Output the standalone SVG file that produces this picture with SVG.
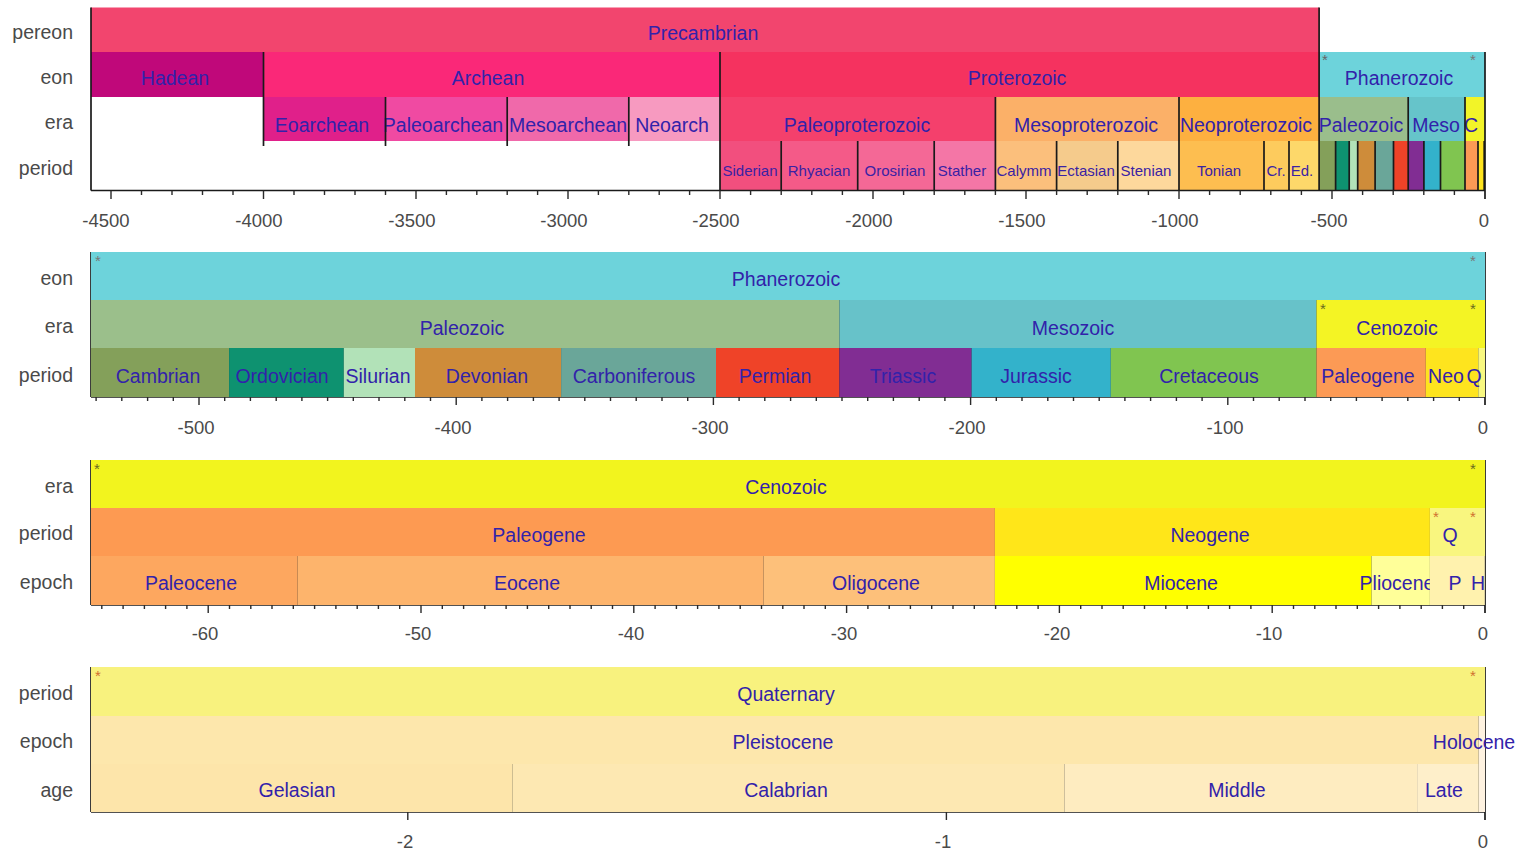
<svg xmlns="http://www.w3.org/2000/svg" width="1517" height="851" viewBox="0 0 1517 851">
<style>
text{font-family:'Liberation Sans',Arial,sans-serif}
.l{font-size:19.5px;text-anchor:middle;fill:#3222aa}
.s{font-size:15px;text-anchor:middle;fill:#3a22a4}
.a{font-size:19.5px;text-anchor:end;fill:#4a4a4a}
.t{font-size:18.5px;text-anchor:middle;fill:#4a4a4a}
.st{font-size:15px;text-anchor:middle}
.b{stroke:#1a1a1a;stroke-width:1.7;fill:none}
.k{stroke:#2a2a2a;stroke-width:1.4;fill:none}
</style>
<rect width="1517" height="851" fill="#fff"/>

<!-- ================= PANEL 1 ================= -->
<g id="panel1">
<g id="p1-axislabels">
<text class="a" x="73" y="39">pereon</text>
<text class="a" x="73" y="84">eon</text>
<text class="a" x="73" y="129">era</text>
<text class="a" x="73" y="175">period</text>
</g>
<g id="p1-precambrian"><rect x="91" y="7.5" width="1228.1" height="44.5" fill="#f2456e"/><text class="l" x="703" y="40">Precambrian</text></g>
<g id="p1-hadean"><rect x="91" y="52" width="172.5" height="45" fill="#c0087a"/><text class="l" x="175" y="85" fill="#2a22d0">Hadean</text></g>
<g id="p1-archean"><rect x="263.5" y="52" width="456.5" height="45" fill="#fa2878"/><text class="l" x="488" y="85">Archean</text></g>
<g id="p1-proterozoic"><rect x="720" y="52" width="599.1" height="45" fill="#f5325f"/><text class="l" x="1017" y="85">Proterozoic</text></g>
<g id="p1-phanerozoic"><rect x="1319.1" y="52" width="165.9" height="45" fill="#6dd3db"/><text class="l" x="1399" y="85" fill="#2040c0">Phanerozoic</text></g>

<g id="p1-eoarchean"><rect x="263.5" y="97" width="122" height="44" fill="#e0208a"/><text class="l" x="322" y="132">Eoarchean</text></g>
<g id="p1-paleoarchean"><rect x="385.5" y="97" width="121.7" height="44" fill="#f04aa2"/><text class="l" x="443" y="132">Paleoarchean</text></g>
<g id="p1-mesoarchean"><rect x="507.2" y="97" width="121.6" height="44" fill="#f069aa"/><text class="l" x="568" y="132">Mesoarchean</text></g>
<g id="p1-neoarchean"><rect x="628.8" y="97" width="91.2" height="44" fill="#f79ac0"/><text class="l" x="672" y="132">Neoarch</text></g>
<g id="p1-paleoproterozoic"><rect x="720" y="97" width="275.4" height="44" fill="#f4406c"/><text class="l" x="857" y="132">Paleoproterozoic</text></g>
<g id="p1-mesoproterozoic"><rect x="995.4" y="97" width="183.6" height="44" fill="#fbb068"/><text class="l" x="1086" y="132">Mesoproterozoic</text></g>
<g id="p1-neoproterozoic"><rect x="1179" y="97" width="140.1" height="44" fill="#fdb040"/><text class="l" x="1246" y="132">Neoproterozoic</text></g>
<g id="p1-paleozoic"><rect x="1319.1" y="97" width="89.1" height="44" fill="#9abe8c"/><text class="l" x="1361" y="132" fill="#2a3cc0">Paleozoic</text></g>
<g id="p1-mesozoic"><rect x="1408.2" y="97" width="56.8" height="44" fill="#66c4ca"/><text class="l" x="1436" y="132" fill="#2a3cc0">Meso</text></g>
<g id="p1-cenozoic"><rect x="1465" y="97" width="20" height="44" fill="#f2f428"/><text class="l" x="1471" y="132">C</text></g>

<g id="p1-siderian"><rect x="720" y="141" width="61.2" height="49.5" fill="#f24f7e"/><text class="s" x="750" y="176">Siderian</text></g>
<g id="p1-rhyacian"><rect x="781.2" y="141" width="76.5" height="49.5" fill="#f45a88"/><text class="s" x="819" y="176">Rhyacian</text></g>
<g id="p1-orosirian"><rect x="857.7" y="141" width="76.5" height="49.5" fill="#f46896"/><text class="s" x="895" y="176">Orosirian</text></g>
<g id="p1-statherian"><rect x="934.2" y="141" width="61.2" height="49.5" fill="#f476a6"/><text class="s" x="962" y="176">Stather</text></g>
<g id="p1-calymmian"><rect x="995.4" y="141" width="61.2" height="49.5" fill="#fbbf7c"/><text class="s" x="1024" y="176">Calymm</text></g>
<g id="p1-ectasian"><rect x="1056.6" y="141" width="61.2" height="49.5" fill="#f5cb8c"/><text class="s" x="1086" y="176">Ectasian</text></g>
<g id="p1-stenian"><rect x="1117.8" y="141" width="61.2" height="49.5" fill="#fdd89c"/><text class="s" x="1146" y="176">Stenian</text></g>
<g id="p1-tonian"><rect x="1179" y="141" width="85" height="49.5" fill="#fdbe50"/><text class="s" x="1219" y="176">Tonian</text></g>
<g id="p1-cryogenian"><rect x="1264" y="141" width="25" height="49.5" fill="#fdcb5d"/><text class="s" x="1276" y="176">Cr.</text></g>
<g id="p1-ediacaran"><rect x="1289" y="141" width="30.1" height="49.5" fill="#fdd86a"/><text class="s" x="1302" y="176">Ed.</text></g>
<g id="p1-phanero-periods">
<rect x="1319.1" y="141" width="16.5" height="49.5" fill="#84a05a"/>
<rect x="1335.6" y="141" width="13.6" height="49.5" fill="#0e9270"/>
<rect x="1349.2" y="141" width="8.5" height="49.5" fill="#b2e2b8"/>
<rect x="1357.7" y="141" width="17.4" height="49.5" fill="#ce8c3a"/>
<rect x="1375.1" y="141" width="18.4" height="49.5" fill="#6aa699"/>
<rect x="1393.5" y="141" width="14.7" height="49.5" fill="#ef4328"/>
<rect x="1408.2" y="141" width="15.7" height="49.5" fill="#812d93"/>
<rect x="1423.9" y="141" width="16.6" height="49.5" fill="#33b2cb"/>
<rect x="1440.5" y="141" width="24.5" height="49.5" fill="#80c550"/>
<rect x="1465" y="141" width="13" height="49.5" fill="#fc9a55"/>
<rect x="1478" y="141" width="6.2" height="49.5" fill="#fee41e"/>
<rect x="1484.2" y="141" width="0.8" height="49.5" fill="#f8f880"/>
</g>
<g id="p1-stars">
<text class="st" x="1325" y="65" fill="#666">*</text>
<text class="st" x="1473" y="65" fill="#777">*</text>
</g>
</g>

<g id="connectors">
<!-- panel 1 boundaries and axes -->
<path class="b" d="M91 7.5V190.5M263.5 52V146M385.5 97V146M507.2 97V146M628.8 97V146M720 52V190.5M781.2 141V190.5M857.7 141V190.5M934.2 141V190.5M995.4 97V190.5M1056.6 141V190.5M1117.8 141V190.5M1179 97V190.5M1264 141V190.5M1289 141V190.5M1319.1 7.5V190.5M1335.6 141V190.5M1349.2 141V190.5M1357.7 141V190.5M1375.1 141V190.5M1393.5 141V190.5M1408.2 97V190.5M1423.9 141V190.5M1440.5 141V190.5M1465 97V190.5M1478 141V190.5M1484.2 141V190.5M1485 52V199M91 190.5H1485"/>
<path class="k" d="M111 190.5v8.5M263.5 190.5v8.5M416 190.5v8.5M568 190.5v8.5M720 190.5v8.5M873 190.5v8.5M1026 190.5v8.5M1179 190.5v8.5M1332 190.5v8.5M141.5 190.5v4.5M172 190.5v4.5M202.5 190.5v4.5M233 190.5v4.5M294 190.5v4.5M324.5 190.5v4.5M355 190.5v4.5M385.5 190.5v4.5M446.4 190.5v4.5M476.8 190.5v4.5M507.2 190.5v4.5M537.6 190.5v4.5M598.4 190.5v4.5M628.8 190.5v4.5M659.2 190.5v4.5M689.6 190.5v4.5M750.6 190.5v4.5M781.2 190.5v4.5M811.8 190.5v4.5M842.4 190.5v4.5M903.6 190.5v4.5M934.2 190.5v4.5M964.8 190.5v4.5M995.4 190.5v4.5M1056.6 190.5v4.5M1087.2 190.5v4.5M1117.8 190.5v4.5M1148.4 190.5v4.5M1209.6 190.5v4.5M1240.2 190.5v4.5M1270.8 190.5v4.5M1301.4 190.5v4.5M1362.6 190.5v4.5M1393.2 190.5v4.5M1423.8 190.5v4.5M1454.4 190.5v4.5"/>
<!-- panel 2 -->
<path class="b" d="M91 252V397M229.1 348V397M343.8 348V397M415 348V397M561.1 348V397M716 348V397M839.4 300V397M971.6 348V397M1110.8 348V397M1316.5 300V397M1425.8 348V397M1478.3 348V397M1485 252V405M91 397H1485"/>
<path class="k" d="M199 397v8M456.2 397v8M713.4 397v8M970.6 397v8M1227.8 397v8M96.1 397v4M121.8 397v4M147.6 397v4M173.3 397v4M224.7 397v4M250.4 397v4M276.2 397v4M301.9 397v4M327.6 397v4M353.3 397v4M379 397v4M404.8 397v4M430.5 397v4M481.9 397v4M507.6 397v4M533.4 397v4M559.1 397v4M584.8 397v4M610.5 397v4M636.2 397v4M662 397v4M687.7 397v4M739.1 397v4M764.8 397v4M790.6 397v4M816.3 397v4M842 397v4M867.7 397v4M893.4 397v4M919.2 397v4M944.9 397v4M996.3 397v4M1022 397v4M1047.8 397v4M1073.5 397v4M1099.2 397v4M1124.9 397v4M1150.6 397v4M1176.4 397v4M1202.1 397v4M1253.5 397v4M1279.2 397v4M1305 397v4M1330.7 397v4M1356.4 397v4M1382.1 397v4M1407.8 397v4M1433.6 397v4M1459.3 397v4"/>
<!-- panel 3 -->
<path class="b" d="M91 460V605M297.6 556V605M763.6 556V605M994.9 508V605M1371.5 556V605M1429.9 508V605M1485 460V613M91 605H1485"/>
<path class="b" style="stroke-width:2.4" d="M1484 556V605"/>
<path class="k" d="M208.2 605v8M421 605v8M633.8 605v8M846.6 605v8M1059.4 605v8M1272.2 605v8M101.8 605v4M123.1 605v4M144.4 605v4M165.6 605v4M186.9 605v4M229.5 605v4M250.8 605v4M272 605v4M293.3 605v4M314.6 605v4M335.9 605v4M357.2 605v4M378.4 605v4M399.7 605v4M442.3 605v4M463.6 605v4M484.8 605v4M506.1 605v4M527.4 605v4M548.7 605v4M570 605v4M591.2 605v4M612.5 605v4M655.1 605v4M676.4 605v4M697.6 605v4M718.9 605v4M740.2 605v4M761.5 605v4M782.8 605v4M804 605v4M825.3 605v4M867.9 605v4M889.2 605v4M910.4 605v4M931.7 605v4M953 605v4M974.3 605v4M995.6 605v4M1016.8 605v4M1038.1 605v4M1080.7 605v4M1102 605v4M1123.2 605v4M1144.5 605v4M1165.8 605v4M1187.1 605v4M1208.4 605v4M1229.6 605v4M1250.9 605v4M1293.5 605v4M1314.8 605v4M1336 605v4M1357.3 605v4M1378.6 605v4M1399.9 605v4M1421.2 605v4M1442.4 605v4M1463.7 605v4"/>
<!-- panel 4 -->
<path class="b" d="M91 667V812M512.3 764V812M1064.3 764V812M1417.1 764V812M1478.7 716V812M1485 667V820M91 812H1485"/>
<path class="k" d="M407.8 812v8M946.4 812v8"/>
</g>

<g id="p1-ticklabels">
<text class="t" x="106" y="227">-4500</text>
<text class="t" x="259" y="227">-4000</text>
<text class="t" x="412" y="227">-3500</text>
<text class="t" x="564" y="227">-3000</text>
<text class="t" x="716" y="227">-2500</text>
<text class="t" x="869" y="227">-2000</text>
<text class="t" x="1022" y="227">-1500</text>
<text class="t" x="1175" y="227">-1000</text>
<text class="t" x="1329" y="227">-500</text>
<text class="t" x="1484" y="227">0</text>
</g>

<!-- ================= PANEL 2 ================= -->
<g id="panel2">
<g id="p2-axislabels">
<text class="a" x="73" y="285">eon</text>
<text class="a" x="73" y="333">era</text>
<text class="a" x="73" y="382">period</text>
</g>
<g id="p2-phanerozoic"><rect x="91" y="252" width="1394" height="48" fill="#6dd3db"/><text class="l" x="786" y="286" fill="#2f45c0">Phanerozoic</text></g>
<g id="p2-paleozoic"><rect x="91" y="300" width="748.4" height="48" fill="#9bbf8b"/><text class="l" x="462" y="335" fill="#2a40b0">Paleozoic</text></g>
<g id="p2-mesozoic"><rect x="839.4" y="300" width="477.1" height="48" fill="#67c2c9"/><text class="l" x="1073" y="335" fill="#2a3ec0">Mesozoic</text></g>
<g id="p2-cenozoic"><rect x="1316.5" y="300" width="168.5" height="48" fill="#f4f424"/><text class="l" x="1397" y="335" fill="#3a3a20">Cenozoic</text></g>
<g id="p2-cambrian"><rect x="91" y="348" width="138.1" height="49" fill="#84a05a"/><text class="l" x="158" y="383" fill="#1f3a70">Cambrian</text></g>
<g id="p2-ordovician"><rect x="229.1" y="348" width="114.7" height="49" fill="#0e9270"/><text class="l" x="282" y="383" fill="#1f55c8">Ordovician</text></g>
<g id="p2-silurian"><rect x="343.8" y="348" width="71.2" height="49" fill="#b2e2b8"/><text class="l" x="378" y="383" fill="#1f40a0">Silurian</text></g>
<g id="p2-devonian"><rect x="415" y="348" width="146.1" height="49" fill="#ce8c3a"/><text class="l" x="487" y="383" fill="#4a2a90">Devonian</text></g>
<g id="p2-carboniferous"><rect x="561.1" y="348" width="154.9" height="49" fill="#6aa699"/><text class="l" x="634" y="383" fill="#1f3fa0">Carboniferous</text></g>
<g id="p2-permian"><rect x="716" y="348" width="123.4" height="49" fill="#ef4328"/><text class="l" x="775" y="383" fill="#6a1a90">Permian</text></g>
<g id="p2-triassic"><rect x="839.4" y="348" width="132.2" height="49" fill="#812d93"/><text class="l" x="903" y="383" fill="#5a6ad0">Triassic</text></g>
<g id="p2-jurassic"><rect x="971.6" y="348" width="139.2" height="49" fill="#33b2cb"/><text class="l" x="1036" y="383" fill="#1f4fb0">Jurassic</text></g>
<g id="p2-cretaceous"><rect x="1110.8" y="348" width="205.7" height="49" fill="#80c550"/><text class="l" x="1209" y="383" fill="#1f3f60">Cretaceous</text></g>
<g id="p2-paleogene"><rect x="1316.5" y="348" width="109.3" height="49" fill="#fc9a55"/><text class="l" x="1368" y="383" fill="#6a1aa8">Paleogene</text></g>
<g id="p2-neogene"><rect x="1425.8" y="348" width="52.5" height="49" fill="#fee41e"/><text class="l" x="1446" y="383" fill="#2a2a60">Neo</text></g>
<g id="p2-quaternary"><rect x="1478.3" y="348" width="6.7" height="49" fill="#f8f880"/><text class="l" x="1474" y="383" fill="#2a2a60">Q</text></g>
<g id="p2-stars">
<text class="st" x="98" y="266" fill="#777">*</text>
<text class="st" x="1473" y="266" fill="#777">*</text>
<text class="st" x="1323" y="314" fill="#6a6a20">*</text>
<text class="st" x="1473" y="314" fill="#6a6a20">*</text>
</g>
<g id="p2-ticklabels">
<text class="t" x="196" y="434">-500</text>
<text class="t" x="453" y="434">-400</text>
<text class="t" x="710" y="434">-300</text>
<text class="t" x="967" y="434">-200</text>
<text class="t" x="1225" y="434">-100</text>
<text class="t" x="1483" y="434">0</text>
</g>
</g>

<!-- ================= PANEL 3 ================= -->
<g id="panel3">
<g id="p3-axislabels">
<text class="a" x="73" y="493">era</text>
<text class="a" x="73" y="540">period</text>
<text class="a" x="73" y="589">epoch</text>
</g>
<g id="p3-cenozoic"><rect x="91" y="460" width="1394" height="48" fill="#f2f41e"/><text class="l" x="786" y="494" fill="#3a3a20">Cenozoic</text></g>
<g id="p3-paleogene"><rect x="91" y="508" width="903.9" height="48" fill="#fd9a52"/><text class="l" x="539" y="542" fill="#6a1aa8">Paleogene</text></g>
<g id="p3-neogene"><rect x="994.9" y="508" width="435" height="48" fill="#ffe619"/><text class="l" x="1210" y="542" fill="#2a2a50">Neogene</text></g>
<g id="p3-quaternary"><rect x="1429.9" y="508" width="55.1" height="48" fill="#f9f67f"/><text class="l" x="1450" y="542" fill="#2a2a50">Q</text></g>
<g id="p3-paleocene"><rect x="91" y="556" width="206.6" height="49" fill="#fda75f"/><text class="l" x="191" y="590" fill="#5a1aa8">Paleocene</text></g>
<g id="p3-eocene"><rect x="297.6" y="556" width="466" height="49" fill="#fdb46c"/><text class="l" x="527" y="590" fill="#5a1aa8">Eocene</text></g>
<g id="p3-oligocene"><rect x="763.6" y="556" width="231.3" height="49" fill="#fdc07a"/><text class="l" x="876" y="590" fill="#5a1aa8">Oligocene</text></g>
<g id="p3-miocene"><rect x="994.9" y="556" width="376.6" height="49" fill="#ffff00"/><text class="l" x="1181" y="590" fill="#2a2a50">Miocene</text></g>
<g id="p3-pliocene"><rect x="1371.5" y="556" width="58.4" height="49" fill="#ffff99"/><text class="l" x="1397" y="590" fill="#2a2a60">Pliocene</text></g>
<g id="p3-pleistocene"><rect x="1429.9" y="556" width="54.9" height="49" fill="#fff2ae"/><text class="l" x="1455" y="590" fill="#2a2a80">P</text></g>
<g id="p3-holocene"><rect x="1484.8" y="556" width="0.2" height="49" fill="#fef2e0"/><text class="l" x="1478" y="590" fill="#2a2a80">H</text></g>
<g id="p3-stars">
<text class="st" x="97" y="474" fill="#6a6a20">*</text>
<text class="st" x="1473" y="474" fill="#6a6a20">*</text>
<text class="st" x="1436" y="522" fill="#d07030">*</text>
<text class="st" x="1473" y="522" fill="#d07030">*</text>
</g>
<g id="p3-ticklabels">
<text class="t" x="205" y="640">-60</text>
<text class="t" x="418" y="640">-50</text>
<text class="t" x="631" y="640">-40</text>
<text class="t" x="844" y="640">-30</text>
<text class="t" x="1057" y="640">-20</text>
<text class="t" x="1269" y="640">-10</text>
<text class="t" x="1483" y="640">0</text>
</g>
</g>

<!-- ================= PANEL 4 ================= -->
<g id="panel4">
<g id="p4-axislabels">
<text class="a" x="73" y="700">period</text>
<text class="a" x="73" y="748">epoch</text>
<text class="a" x="73" y="797">age</text>
</g>
<g id="p4-quaternary"><rect x="91" y="667" width="1394" height="49" fill="#f8f27e"/><text class="l" x="786" y="701" fill="#2a2a9a">Quaternary</text></g>
<g id="p4-pleistocene"><rect x="91" y="716" width="1387.7" height="48" fill="#fde7ac"/><text class="l" x="783" y="749" fill="#2a2a9a">Pleistocene</text></g>
<g id="p4-holocene"><rect x="1478.7" y="716" width="6.3" height="96" fill="#fef2e0"/><text class="l" x="1474" y="749" fill="#2a2a9a">Holocene</text></g>
<g id="p4-gelasian"><rect x="91" y="764" width="421.3" height="48" fill="#fde5aa"/><text class="l" x="297" y="797" fill="#2a2a9a">Gelasian</text></g>
<g id="p4-calabrian"><rect x="512.3" y="764" width="552" height="48" fill="#fde8b2"/><text class="l" x="786" y="797" fill="#2a2a9a">Calabrian</text></g>
<g id="p4-middle"><rect x="1064.3" y="764" width="352.8" height="48" fill="#feecc0"/><text class="l" x="1237" y="797" fill="#2a2a9a">Middle</text></g>
<g id="p4-late"><rect x="1417.1" y="764" width="61.6" height="48" fill="#feefca"/><text class="l" x="1444" y="797" fill="#2a2a9a">Late</text></g>
<g id="p4-stars">
<text class="st" x="98" y="681" fill="#d07030">*</text>
<text class="st" x="1473" y="681" fill="#d07030">*</text>
</g>
<g id="p4-ticklabels">
<text class="t" x="405" y="848">-2</text>
<text class="t" x="943" y="848">-1</text>
<text class="t" x="1483" y="848">0</text>
</g>
</g>
</svg>
